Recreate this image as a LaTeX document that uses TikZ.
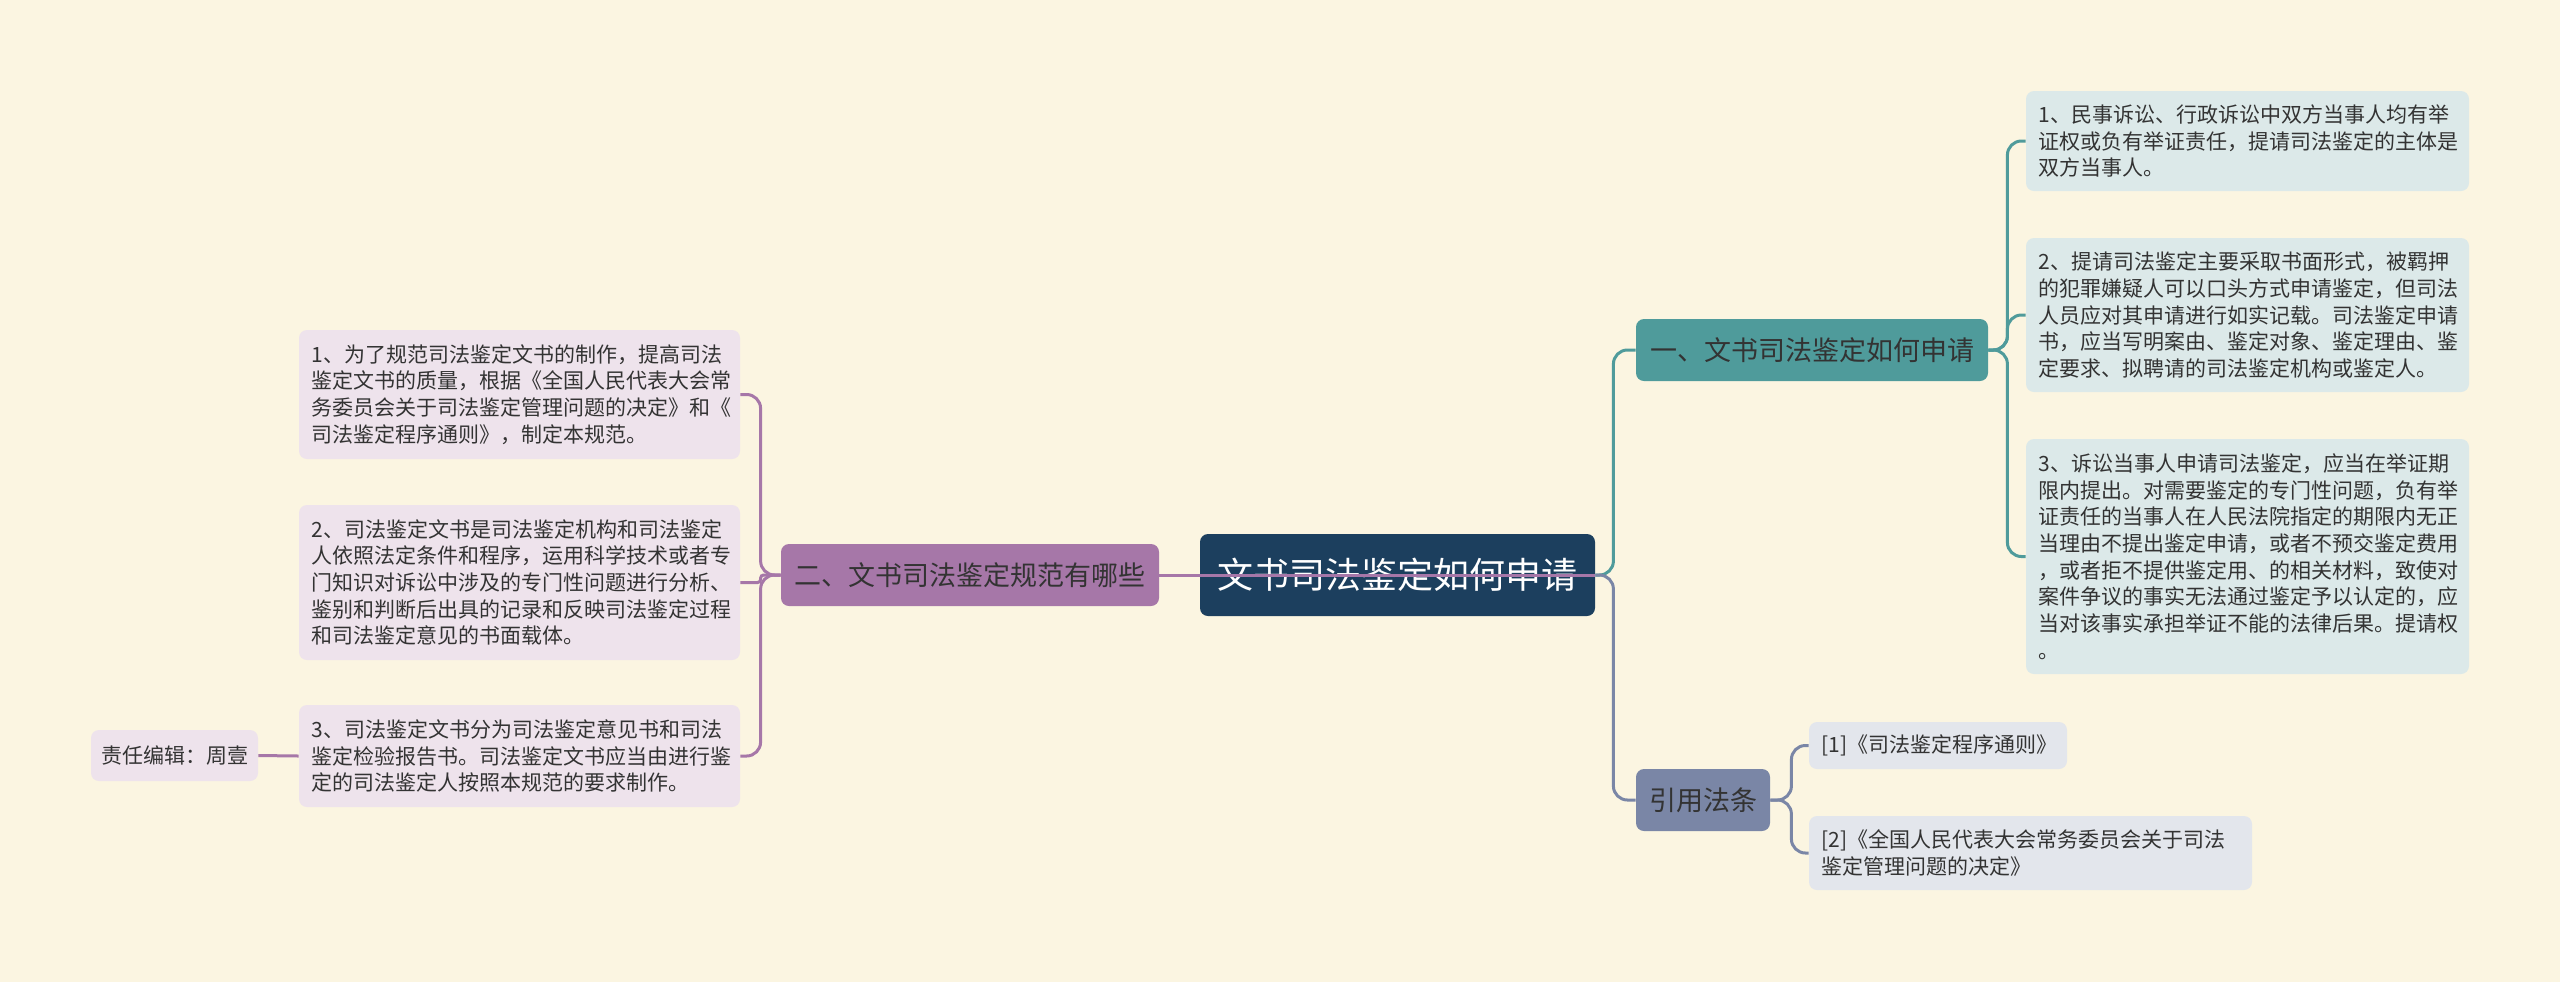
\documentclass[tikz,border=0pt]{standalone}
\usepackage{fontspec}
\usepackage{tikz}
\newfontfamily\cjk{Noto Sans CJK SC}
\definecolor{paper}{HTML}{FBF5E1}
\definecolor{rootblue}{HTML}{1C3F5E}
\definecolor{tealbr}{HTML}{4F9B9B}
\definecolor{tealleaf}{HTML}{DCE9E9}
\definecolor{plumbr}{HTML}{A677A8}
\definecolor{plumleaf}{HTML}{EEE3EC}
\definecolor{slatebr}{HTML}{7A86A6}
\definecolor{slateleaf}{HTML}{E3E6EC}
\definecolor{inkdark}{HTML}{333333}

\begin{document}
\begin{tikzpicture}[x=0.5pt, y=-0.5pt,
  box/.style={rectangle, rounded corners=4pt, inner sep=0pt, text=inkdark, align=left},
  rootbox/.style={box, fill=rootblue, text=white, font=\cjk\fontsize{18}{22}\selectfont,
    minimum width=197.5pt, minimum height=41pt},
  branch/.style={box, font=\cjk\fontsize{13.5}{16}\selectfont, minimum height=31pt},
  leaf/.style={box, inner xsep=6.25pt, font=\cjk\fontsize{10.5}{13.35}\selectfont},
  link/.style={line width=1.5pt, rounded corners=7pt}]

% Background
\fill[paper] (0,0) rectangle (2560,982);

% Root
\node[rootbox] (root) at (1397.5,575) {文书司法鉴定如何申请};

% Branch 1 (teal)
\node[branch, fill=tealbr, minimum width=176pt] (apply) at (1812,350) {一、文书司法鉴定如何申请};
\node[leaf, fill=tealleaf, text width=209pt, minimum height=50pt] (apply1) at (2247.5,141)
  {1、民事诉讼、行政诉讼中双方当事人均有举\\证权或负有举证责任，提请司法鉴定的主体是\\双方当事人。};
\node[leaf, fill=tealleaf, text width=209pt, minimum height=77pt] (apply2) at (2247.5,315)
  {2、提请司法鉴定主要采取书面形式，被羁押\\的犯罪嫌疑人可以口头方式申请鉴定，但司法\\人员应对其申请进行如实记载。司法鉴定申请\\书，应当写明案由、鉴定对象、鉴定理由、鉴\\定要求、拟聘请的司法鉴定机构或鉴定人。};
\node[leaf, fill=tealleaf, text width=209pt, minimum height=117.5pt] (apply3) at (2247.5,556.5)
  {3、诉讼当事人申请司法鉴定，应当在举证期\\限内提出。对需要鉴定的专门性问题，负有举\\证责任的当事人在人民法院指定的期限内无正\\当理由不提出鉴定申请，或者不预交鉴定费用\\，或者拒不提供鉴定用、的相关材料，致使对\\案件争议的事实无法通过鉴定予以认定的，应\\当对该事实承担举证不能的法律后果。提请权\\。};

% Branch 3 (slate) - cited laws
\node[branch, fill=slatebr, minimum width=67pt] (laws) at (1703,800) {引用法条};
\node[leaf, fill=slateleaf, text width=116.5pt, minimum height=23.5pt] (laws1) at (1938,745.5)
  {[1]《司法鉴定程序通则》};
\node[leaf, fill=slateleaf, text width=209pt, minimum height=37pt] (laws2) at (2030.5,853)
  {[2]《全国人民代表大会常务委员会关于司法\\鉴定管理问题的决定》};

% Branch 2 (plum)
\node[branch, fill=plumbr, minimum width=189pt] (norms) at (970,575) {二、文书司法鉴定规范有哪些};
\node[leaf, fill=plumleaf, text width=208pt, minimum height=64.5pt] (norms1) at (519.5,394.5)
  {1、为了规范司法鉴定文书的制作，提高司法\\鉴定文书的质量，根据《全国人民代表大会常\\务委员会关于司法鉴定管理问题的决定》和《\\司法鉴定程序通则》，制定本规范。};
\node[leaf, fill=plumleaf, text width=208pt, minimum height=77.5pt] (norms2) at (519.5,582.5)
  {2、司法鉴定文书是司法鉴定机构和司法鉴定\\人依照法定条件和程序，运用科学技术或者专\\门知识对诉讼中涉及的专门性问题进行分析、\\鉴别和判断后出具的记录和反映司法鉴定过程\\和司法鉴定意见的书面载体。};
\node[leaf, fill=plumleaf, text width=208pt, minimum height=51pt] (norms3) at (519.5,756)
  {3、司法鉴定文书分为司法鉴定意见书和司法\\鉴定检验报告书。司法鉴定文书应当由进行鉴\\定的司法鉴定人按照本规范的要求制作。};
\node[leaf, fill=plumleaf, inner xsep=0pt, minimum width=83.5pt, minimum height=25.5pt] (editor) at (174.5,755.5)
  {责任编辑：周壹};

% Connectors, right side
\draw[link, tealbr] (root.east) -- ++(18,0) |- (apply.west);
\draw[link, slatebr] (root.east) -- ++(18,0) |- (laws.west);
\foreach \kid in {apply1, apply2, apply3}
  \draw[link, tealbr] (apply.east) -- ++(19,0) |- (\kid.west);
\foreach \kid in {laws1, laws2}
  \draw[link, slatebr] (laws.east) -- ++(21,0) |- (\kid.west);

% Connectors, left side
\foreach \kid in {norms1, norms3}
  \draw[link, plumbr] (norms.west) -- ++(-20,0) |- (\kid.east);
\draw[link, plumbr, rounded corners=1.5pt] (norms.west) -- ++(-20,0) |- (norms2.east);
\draw[link, plumbr] (norms3.west) -- (editor.east);
\draw[link, plumbr] (norms.east) -- (root.east);

\end{tikzpicture}
\end{document}
